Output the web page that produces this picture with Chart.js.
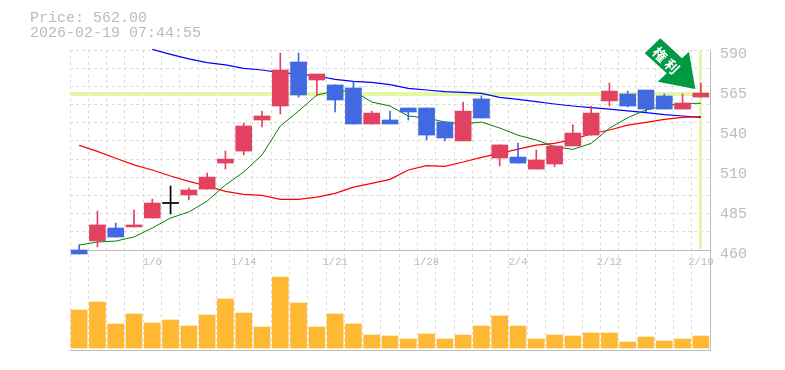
<!DOCTYPE html>
<html>
<head>
<meta charset="utf-8">
<style>
  body { margin: 0; background: #fff; overflow: hidden; }
  #wrap { position: relative; width: 785px; height: 370px; }
  #price-info { position: absolute; left: 30px; top: 11px; margin: 0; font: 15px/15px "Liberation Mono", monospace; color: #bbb; }
</style>
<script src="https://cdn.jsdelivr.net/npm/chart.js@4"></script>
</head>
<body>
<div id="wrap">
  <pre id="price-info">Price: 562.00
2026-02-19 07:44:55</pre>
  <canvas id="stock-chart" width="785" height="370"></canvas>
</div>
<script>
const dates = ["12/26","12/29","12/30","1/5","1/6","1/7","1/8","1/9","1/13","1/14","1/15","1/16","1/19","1/20","1/21","1/22","1/23","1/26","1/27","1/28","1/29","1/30","2/2","2/3","2/4","2/5","2/6","2/9","2/10","2/12","2/13","2/16","2/17","2/18","2/19"];
const shownDates = ["1/6","1/14","1/21","1/28","2/4","2/12","2/19"];

const opens  = [460,465.9,474.3,475,480.8,490.2,495.8,499.6,516.5,524.3,544.5,553.6,582.2,570.5,567.3,565.3,541.9,544.5,552.3,552.3,543.2,530.9,558.2,519.8,520.4,512.6,515.9,527.6,534.7,556.9,561.4,564,560.1,551.6,559.4];
const closes = [457.4,476.3,468.4,476.3,490.5,490.9,499,507.4,519.1,540.6,547.1,577,560.8,574.4,557.5,541.9,549,541.9,549.7,534.7,532.8,550.3,545.8,528.3,516.5,518.5,527.6,536,549,563.3,553.6,551.6,551.6,555.5,562];
const highs  = [463.3,485.3,477.5,486,493.1,501.6,500.3,510,524.3,542.5,550.3,588,588,574.4,567.3,569.2,550.3,550.3,552.3,552.3,543.2,556.2,560.1,528.3,529.5,525,527.6,541.3,553.6,568.5,563.3,564,561.4,561.4,568.5];
const lows   = [457.4,462,468.4,475,480.8,483.4,492.5,499.6,512.6,521.8,540,548.4,559.4,560.1,549.7,541.9,541.9,541.9,544.5,531.5,530.9,530.9,545.8,514.6,516.5,512.6,514,527.6,534.7,553.6,553,549.7,551.6,551.6,559.4];

const maShort = [463.2,465.2,465.8,468.5,474.3,480.8,484.7,491.8,502.3,510.7,521.8,540.6,550.3,560.7,563.4,563.4,556.2,553.6,547.1,545.8,543.2,541.9,543.2,539.3,534.6,531.5,527.2,525.4,529.3,539.1,546,551,553.6,555.3,555.3];
const maMid   = [528,524.1,519.6,515.3,512,508.1,504.6,501.6,498.1,496.2,495.5,492.9,492.9,494.4,496.8,500.9,503.3,505.9,512,514.8,514.4,517.2,520.2,522.8,525.6,528.2,529.3,531.9,535.4,538,541.2,543,544.9,546.2,546.7];
const maLong  = [null,null,null,null,590.4,587.2,584.2,581.8,580.3,578.1,577,575.3,574.4,573.1,570.9,569.6,569,567.5,565.1,564,562.9,562.5,561.8,559.2,557.9,556.4,554.9,553.6,552.5,551.6,550.4,549.3,548,547.1,546.2];

const volumes = [3800,4600,2400,3400,2500,2800,2200,3300,4900,3500,2100,7100,4500,2100,3400,2400,1300,1200,900,1400,900,1300,2200,3200,2200,900,1300,1200,1500,1500,600,1100,700,900,1200];

const priceTicks = [590,564,538,512,486,460];
const priceTickLabels = ["590","565","540","510","485","460"];
const lastPrice = 562;
const markText = ["権","利"];

const RED = "#e24260", BLUE = "#4169e1", BLACK = "#000";
const GRID = "#dcdcdc", AXIS = "#bbb", HILITE = "#e6f6a9", MARK = "#009944";

function candleColor(i) {
  if (Math.abs(closes[i] - opens[i]) < 1) return BLACK;
  return closes[i] > opens[i] ? RED : BLUE;
}
const candleColors = dates.map((d, i) => candleColor(i));

function fixSize(prop, size) {
  return scale => { scale[prop] = size; };
}

// ── last price cross + arrow mark ─────────────────────────────
const overlayPlugin = {
  id: "overlay",
  beforeDatasetsDraw(chart) {
    const { ctx, scales, chartArea } = chart;
    const y = scales.y.getPixelForValue(lastPrice);
    const x = scales.x.getPixelForValue(dates.length - 1);
    ctx.save();
    ctx.fillStyle = HILITE;
    ctx.fillRect(chartArea.left, Math.round(y) - 1, chartArea.width - 2, 4);
    ctx.fillRect(Math.round(x) - 2, chartArea.top + 1, 3, scales.y.getPixelForValue(460) - chartArea.top - 2);
    ctx.restore();
  },
  afterDatasetsDraw(chart) {
    const { ctx } = chart;
    ctx.save();
    ctx.fillStyle = MARK;
    ctx.beginPath();
    [[660.3,38.3],[682,58.3],[689,51.7],[695.3,89],[657.7,81.7],[666.7,73.3],[644.7,53.3]]
      .forEach(([px, py], i) => i ? ctx.lineTo(px, py) : ctx.moveTo(px, py));
    ctx.closePath();
    ctx.fill();
    ctx.fillStyle = "#fff";
    ctx.font = 'bold 14px "Noto Sans CJK JP"';
    ctx.textAlign = "center";
    ctx.textBaseline = "middle";
    ctx.translate(666, 60.5);
    ctx.rotate(Math.PI * 0.25);
    ctx.fillText(markText[0], -8.5, 0);
    ctx.fillText(markText[1], 8.5, 0);
    ctx.restore();
  },
};

new Chart(document.getElementById("stock-chart").getContext("2d"), {
  data: {
    labels: dates,
    datasets: [
      { type: "line", label: "MA short", data: maShort, yAxisID: "y", borderColor: "#008000", borderWidth: 1, pointRadius: 0, tension: 0, order: 5 },
      { type: "line", label: "MA mid", data: maMid, yAxisID: "y", borderColor: "#f00", borderWidth: 1.2, pointRadius: 0, tension: 0, order: 5 },
      { type: "line", label: "MA long", data: maLong, yAxisID: "y", borderColor: "#00f", borderWidth: 1.2, pointRadius: 0, tension: 0, order: 5, clip: false },
      { type: "bar", label: "Wick", data: dates.map((d, i) => [lows[i], highs[i]]), yAxisID: "y", backgroundColor: candleColors, barThickness: 1, grouped: false, order: 3, clip: false },
      { type: "bar", label: "Body", data: dates.map((d, i) => [opens[i], closes[i]]), yAxisID: "y", backgroundColor: candleColors, barThickness: 16, grouped: false, order: 2, clip: false },
      { type: "bar", label: "Volume", data: volumes, yAxisID: "yVol", backgroundColor: "#ffb833", barThickness: 16, grouped: false, order: 4 },
    ],
  },
  options: {
    responsive: false,
    animation: false,
    events: [],
    layout: { padding: { left: 70, top: 50, right: 0, bottom: 20 } },
    plugins: { legend: { display: false }, tooltip: { enabled: false } },
    scales: {
      x: {
        type: "category", offset: true, position: "bottom",
        grid: { offset: true, color: GRID, drawTicks: false },
        border: { color: AXIS, width: 1, dash: [3, 3] },
        ticks: { display: false },
        afterFit: fixSize("height", 0),
      },
      xLabels: {
        type: "category", offset: true, position: { y: 460 },
        grid: { display: false, drawTicks: false },
        border: { color: AXIS, width: 1 },
        ticks: {
          autoSkip: false, maxRotation: 0, color: AXIS, padding: 6,
          font: { family: '"Liberation Mono", monospace', size: 10.5 },
          callback(value) {
            const label = this.getLabelForValue(value);
            return shownDates.includes(label) ? label : "";
          },
        },
      },
      y: {
        position: "right", min: 395, max: 590,
        grid: { display: false, drawTicks: false },
        border: { color: AXIS, width: 1 },
        afterBuildTicks: scale => { scale.ticks = priceTicks.map(value => ({ value })); },
        ticks: {
          color: AXIS, padding: 10, labelOffset: 4,
          font: { family: '"Liberation Mono", monospace', size: 15 },
          callback: value => priceTickLabels[priceTicks.indexOf(value)],
        },
        afterFit: fixSize("width", 75),
      },
      yGrid: {
        position: "left", min: 395, max: 590,
        grid: { color: GRID, drawTicks: false },
        border: { display: false, dash: [3, 3] },
        afterBuildTicks: scale => {
          const step = (590 - 460) / 11;
          scale.ticks = Array.from({ length: 11 }, (_, i) => ({ value: 590 - i * step }));
        },
        ticks: { display: false },
        afterFit: fixSize("width", 0),
      },
      yVol: { display: false, min: -200, max: 29800 },
    },
  },
  plugins: [overlayPlugin],
});
</script>
</body>
</html>
